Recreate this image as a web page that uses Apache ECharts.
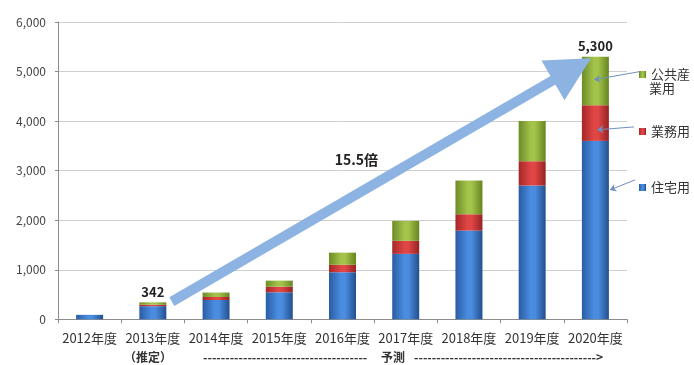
<!DOCTYPE html>
<html>
<head>
<meta charset="utf-8">
<script src="https://cdn.jsdelivr.net/npm/echarts@6/dist/echarts.min.js"></script>
<style>
html,body{margin:0;padding:0;background:#fff;}
#c{width:694px;height:365px;}
</style>
</head>
<body>
<div id="c"></div>
<script>
// ---- data ----
const categories = ['2012年度','2013年度','2014年度','2015年度','2016年度','2017年度','2018年度','2019年度','2020年度'];
const residential = [90, 265, 390, 545, 950, 1320, 1790, 2700, 3600];
const business = [0, 30, 60, 113, 150, 263, 330, 490, 720];
const publicIndustrial = [0, 47, 90, 122, 245, 403, 680, 810, 980];
const topLabels = ['', '342', '', '', '', '', '', '', '5,300'];
const yTicks = [0, 1000, 2000, 3000, 4000, 5000, 6000];
// annotation anchors in (category index, value) units
const growthArrow = [[1.30, 356], [7.63, 5046]];
const growthLabel = { text: '15.5倍', at: [4.22, 3218] };
const leaderPublic = [[8.69, 4996], [7.98, 4836]];
const leaderBusiness = [[8.61, 3883], [8.03, 3824]];
const leaderResidential = [[8.63, 2814], [8.23, 2612]];
const subLabelRow = {
  estimate: '（推定）',
  dashesLeft: '-------------------------------------',
  forecast: '予測',
  dashesRight: '----------------------------------------->'
};

const FONT = "'Noto Sans CJK JP', 'Noto Sans', sans-serif";
function grad(c0, c1, c2) {
  return new echarts.graphic.LinearGradient(0, 0, 1, 0, [
    {offset: 0, color: c0}, {offset: 0.45, color: c1}, {offset: 0.6, color: c1}, {offset: 1, color: c2}
  ]);
}
const blueG = grad('#2a5ca3', '#4a8de0', '#234f8c');
const redG = grad('#a52727', '#e04646', '#962222');
const greenG = grad('#6c8c27', '#a4c34b', '#66851f');

const chart = echarts.init(document.getElementById('c'), null, {renderer: 'canvas'});
const gridTop = 22, gridBottom = 45.7, gridLeft = 58, gridRight = 67;
const catW = (694 - gridLeft - gridRight) / categories.length;
const extMax = -0.5 + (694 - gridLeft) / catW;

const option = {
  animation: false,
  textStyle: {fontFamily: FONT},
  grid: [
    {left: gridLeft, right: gridRight, top: gridTop, bottom: gridBottom},
    {left: gridLeft, right: 0, top: gridTop, bottom: gridBottom, show: false}
  ],
  legend: [
    {data: ['公共産業用'], left: 634, top: 63, icon: 'rect', itemWidth: 7, itemHeight: 7,
     formatter: () => '公共産', textStyle: {fontSize: 13, color: '#333', fontFamily: FONT}, selectedMode: false},
    {data: ['業務用'], left: 634, top: 120, icon: 'rect', itemWidth: 7, itemHeight: 7,
     textStyle: {fontSize: 13, color: '#333', fontFamily: FONT}, selectedMode: false},
    {data: ['住宅用'], left: 634, top: 176, icon: 'rect', itemWidth: 7, itemHeight: 7,
     textStyle: {fontSize: 13, color: '#333', fontFamily: FONT}, selectedMode: false}
  ],
  xAxis: [
    {type: 'category', data: categories, gridIndex: 0,
     axisLine: {lineStyle: {color: '#8c8c8c'}},
     axisTick: {show: true, length: 4, lineStyle: {color: '#8c8c8c'}},
     axisLabel: {interval: 0, fontSize: 13, color: '#333', margin: 12, fontFamily: FONT}},
    {type: 'value', gridIndex: 1, min: -0.5, max: extMax, show: false}
  ],
  yAxis: [
    {type: 'value', gridIndex: 0, min: yTicks[0], max: yTicks[yTicks.length - 1], interval: 1000,
     axisLine: {show: true, lineStyle: {color: '#8c8c8c'}},
     axisTick: {show: true, length: 3, lineStyle: {color: '#8c8c8c'}},
     axisLabel: {fontSize: 12, color: '#444', margin: 12,
       formatter: v => v.toLocaleString('en-US')},
     splitLine: {lineStyle: {color: '#cfcfcf'}}},
    {type: 'value', gridIndex: 1, min: yTicks[0], max: yTicks[yTicks.length - 1], show: false}
  ],
  series: [
    {name: '住宅用', type: 'bar', stack: 't', data: residential, barWidth: 27,
     itemStyle: {color: blueG}},
    {name: '業務用', type: 'bar', stack: 't', data: business, barWidth: 27,
     itemStyle: {color: redG}},
    {name: '公共産業用', type: 'bar', stack: 't', data: publicIndustrial, barWidth: 27,
     itemStyle: {color: greenG},
     label: {show: true, position: 'top', distance: 4, fontSize: 13, fontWeight: 'bold', color: '#222',
       formatter: p => topLabels[p.dataIndex]}},
    {type: 'line', xAxisIndex: 1, yAxisIndex: 1, data: [], clip: false, silent: true,
     markLine: {
       silent: true, animation: false,
       label: {show: false},
       data: [
         [{coord: growthArrow[0], symbol: 'none', lineStyle: {width: 10, color: '#8db3e2', type: 'solid'}},
          {coord: growthArrow[1], symbol: 'triangle', symbolSize: [46, 44]}],
         [{coord: leaderPublic[0], symbol: 'none', lineStyle: {width: 1, color: '#6f8fbf', type: 'solid'}},
          {coord: leaderPublic[1], symbol: 'arrow', symbolSize: 6}],
         [{coord: leaderBusiness[0], symbol: 'none', lineStyle: {width: 1, color: '#6f8fbf', type: 'solid'}},
          {coord: leaderBusiness[1], symbol: 'arrow', symbolSize: 6}],
         [{coord: leaderResidential[0], symbol: 'none', lineStyle: {width: 1, color: '#6f8fbf', type: 'solid'}},
          {coord: leaderResidential[1], symbol: 'arrow', symbolSize: 6}]
       ]
     },
     markPoint: {
       silent: true, animation: false,
       data: [{coord: growthLabel.at, symbol: 'rect', symbolSize: 1, itemStyle: {color: 'rgba(0,0,0,0)'},
         label: {show: true, position: 'inside', formatter: growthLabel.text, fontSize: 14, fontWeight: 'bold', color: '#222', fontFamily: FONT}}]
     }}
  ],
  graphic: [
    {type: 'text', left: 649, top: 82, style: {text: '業用', fontSize: 13, fill: '#333', fontFamily: FONT}},
    {type: 'text', left: 124, top: 351, style: {text: subLabelRow.estimate, fontSize: 12, fontWeight: 'bold', fill: '#333', fontFamily: FONT}},
    {type: 'text', left: 203, top: 351, style: {text: subLabelRow.dashesLeft, fontSize: 12, fontWeight: 'bold', fill: '#333', fontFamily: FONT}},
    {type: 'text', left: 381, top: 351, style: {text: subLabelRow.forecast, fontSize: 12, fontWeight: 'bold', fill: '#333', fontFamily: FONT}},
    {type: 'text', left: 414, top: 351, style: {text: subLabelRow.dashesRight, fontSize: 12, fontWeight: 'bold', fill: '#333', fontFamily: FONT}}
  ]
};
chart.setOption(option);
</script>
</body>
</html>
